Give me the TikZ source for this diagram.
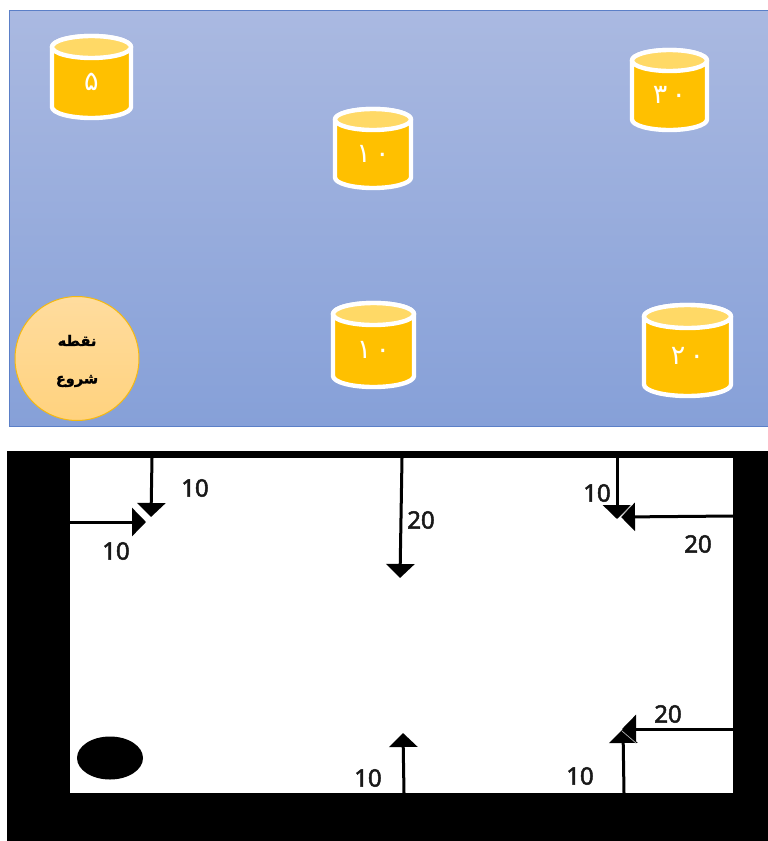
\documentclass[tikz,border=0pt]{standalone}
\usepackage{fontspec}
\usepackage{xcolor}
\usetikzlibrary{arrows.meta,shapes.geometric}
\TeXXeTstate=1
\newfontfamily\arabicfont[Script=Arabic,BoldFeatures={RawFeature={embolden=1.4}}]{DejaVu Sans}
\newfontfamily\latinfont[RawFeature={embolden=2}]{Noto Sans}
\definecolor{paneltop}{HTML}{AAB9E1}
\definecolor{panelbot}{HTML}{86A0D8}
\definecolor{paneledge}{HTML}{5B7FC7}
\definecolor{barrelc}{HTML}{FFC000}
\definecolor{barreltop}{HTML}{FFD966}
\definecolor{startedge}{HTML}{F5B910}
\definecolor{starttop}{HTML}{FFDC9E}
\definecolor{startbot}{HTML}{FFD27E}
\tikzset{
  barrelline/.style={draw=white, line width=4.4pt, line join=round},
  barreltext/.style={text=white, font=\arabicfont\fontsize{27}{27}\selectfont, inner sep=0pt},
  pathline/.style={line width=3pt, -{Triangle[width=28pt,length=14pt]}},
  seamline/.style={gray!60, line width=.7pt},
  costlabel/.style={font=\latinfont\fontsize{24}{24}\selectfont, text=black!90, inner sep=0pt}
}
\begin{document}
\begin{tikzpicture}[x=1pt, y=-1pt]
  \useasboundingbox (0,0) rectangle (768,841);
  % map panel
  \path[draw=paneledge, line width=1pt, top color=paneltop, bottom color=panelbot] (9,10) rectangle (769,426);
  \foreach \n/\x/\y/\w/\h/\r/\v in {a/91.5/77/79/82/11/۵,b/373/148.5/76/79/10.5/۱\,۰,c/669.5/90/75/80/10.5/۳\,۰,d/373.5/345/81/84/11/۱\,۰,e/687.5/350.5/87/91/11.5/۲\,۰}{
     \pgfmathsetmacro{\xl}{\x-\w/2}
     \pgfmathsetmacro{\xr}{\x+\w/2}
     \pgfmathsetmacro{\yt}{\y-\h/2+\r}
     \pgfmathsetmacro{\yb}{\y+\h/2-\r}
     \filldraw[barrelline, fill=barrelc] (\xl,\yt) -- (\xl,\yb) arc[start angle=180, end angle=360, x radius=\w/2*1pt, y radius=\r*1pt]
        -- (\xr,\yt) arc[start angle=0, end angle=180, x radius=\w/2*1pt, y radius=\r*1pt] -- cycle;
     \filldraw[barrelline, fill=barreltop] (\x,\yt) ellipse[x radius=\w/2*1pt, y radius=\r*1pt];
     \node[barreltext] (barrel\n) at (\x,\y+5) {\v};
  }
  \node[circle, draw=startedge, line width=1pt, top color=starttop, bottom color=startbot,
    minimum size=124pt, inner sep=0pt] (start) at (77,358.5) {};
  \node[font=\arabicfont\bfseries\fontsize{14.5}{14.5}\selectfont, align=center, inner sep=0pt]
    (starttext) at (77,361) {\beginR نقطه\endR\\[23pt]\beginR شروع\endR};
  % route sheet
  \fill[black] (7,451) rectangle (769,841);
  \fill[white] (70,458) rectangle (733,793);
  \node[ellipse, fill=black, minimum width=66pt, minimum height=43pt, inner sep=0pt] (startdot) at (110,758) {};
  \foreach \n/\x/\y in {p/152/458,q/151/517,r/70/522,s/146/522,t/402/458,u/400/578,v/617/458,w/617/519,x/733/516,y/621/517,
      m/404/793,n/403/733,g/624/793,h/623/729,i/733/729,j/622/729}
     \coordinate (\n) at (\x,\y);
  \foreach \a/\b in {p/q,r/s,t/u,v/w,x/y,i/j,g/h,m/n}
     \draw[pathline] (\a) -- (\b);
  \draw[seamline] (621,517) -- (631,505);
  \draw[seamline] (622,731) -- (636,743);
  % costs
  \foreach \n/\x/\y/\v in {1/195/488/10,2/116/551/10,3/421/520/20,4/597/493/10,5/698/544/20,6/668/714/20,7/580/776/10,8/368/778/10}
     \node[costlabel] (cost\n) at (\x,\y) {\v};
\end{tikzpicture}
\end{document}
